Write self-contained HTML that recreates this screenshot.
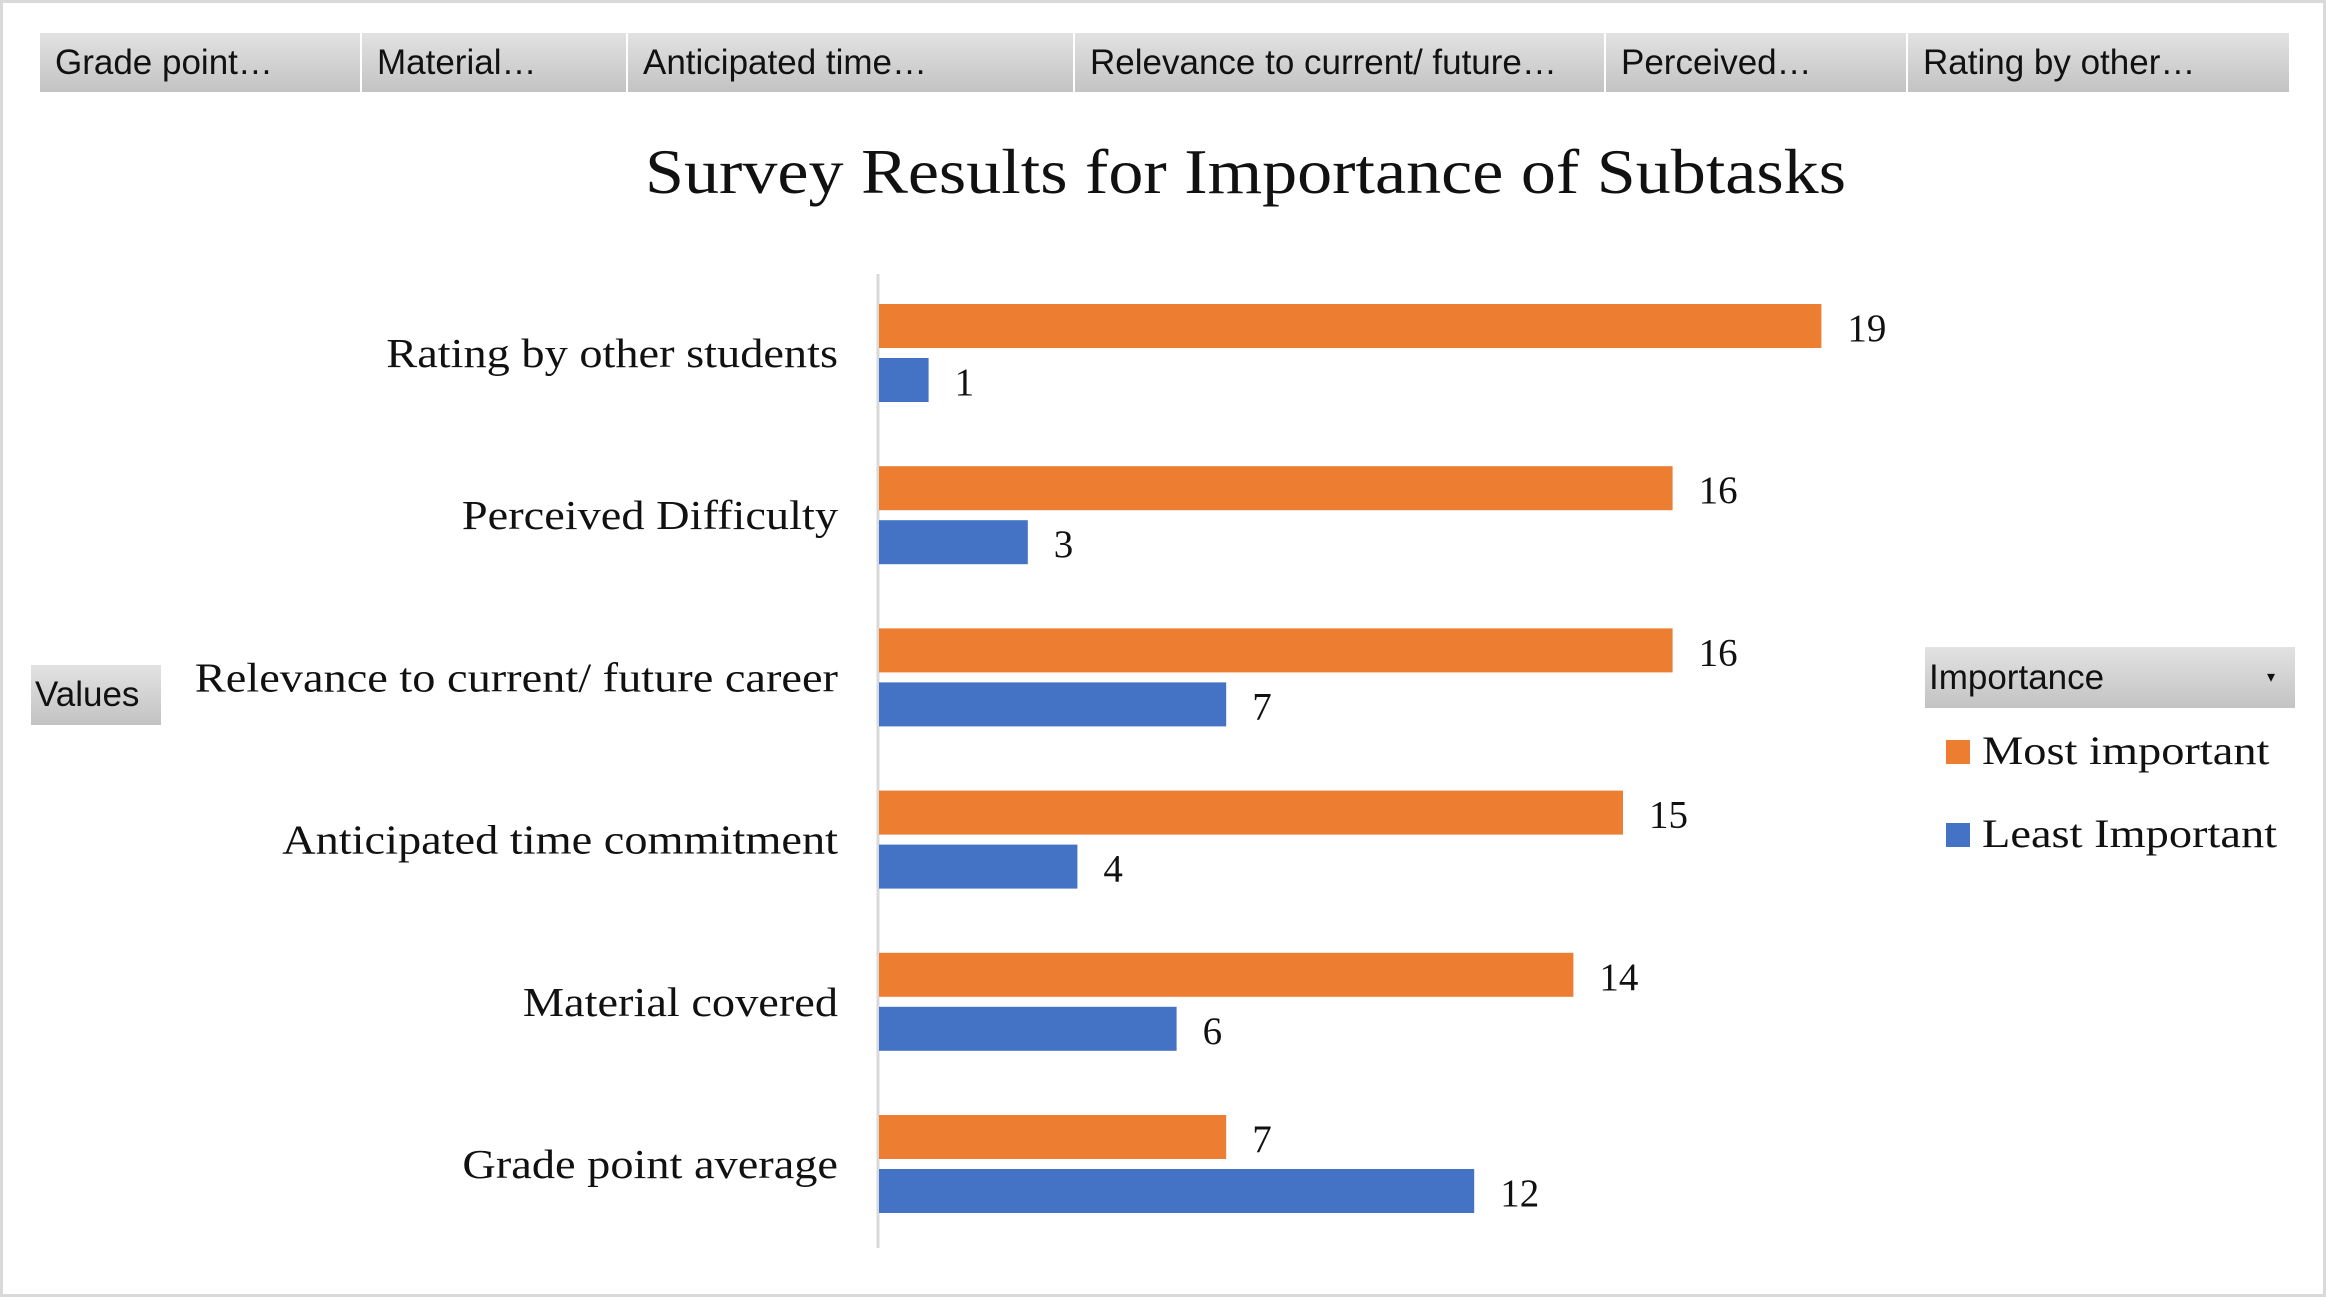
<!DOCTYPE html>
<html><head><meta charset="utf-8"><style>
html,body{margin:0;padding:0;background:#fff;}
#root{position:relative;width:2326px;height:1297px;overflow:hidden;box-sizing:border-box;border:3px solid #d9d9d9;background:#fff;}
.fb{position:absolute;top:30px;height:59px;box-sizing:border-box;background:linear-gradient(#e2e2e2,#c3c3c3);border-right:2px solid #fff;font-family:"Liberation Sans",sans-serif;font-size:35px;line-height:59px;padding-left:15px;color:#111;white-space:nowrap;overflow:hidden;}
</style></head><body>
<div id="root">
<div class="fb" style="left:37px;width:322px">Grade point…</div>
<div class="fb" style="left:359px;width:266px">Material…</div>
<div class="fb" style="left:625px;width:447px">Anticipated time…</div>
<div class="fb" style="left:1072px;width:531px">Relevance to current/ future…</div>
<div class="fb" style="left:1603px;width:302px">Perceived…</div>
<div class="fb" style="left:1905px;width:381px;border-right:none">Rating by other…</div>
<div class="fb" style="left:28px;top:662px;width:132px;height:60px;line-height:60px;padding-left:4px">Values</div>
<div class="fb" style="left:1922px;top:644px;width:370px;height:61px;line-height:61px;padding-left:4px;border:none">Importance<span style="position:absolute;right:20px;top:0;font-size:16px">▾</span></div>
<svg id="chart" width="2326" height="1297" style="position:absolute;left:0;top:0">
<text x="642" y="190" textLength="1201" lengthAdjust="spacingAndGlyphs" font-size="64" font-family="Liberation Serif, serif" fill="#111">Survey Results for Importance of Subtasks</text>
<g id="plot"></g>
<g>
<rect x="1943" y="737" width="24" height="24" fill="#ED7D31"/>
<text class="wide" x="1979" y="761" font-size="40" font-family="Liberation Serif, serif" fill="#111">Most important</text>
<rect x="1943" y="820" width="24" height="24" fill="#4472C4"/>
<text class="wide" x="1979" y="844" font-size="40" font-family="Liberation Serif, serif" fill="#111">Least Important</text>
</g>
</svg>
</div>
<script>
const categories = ["Rating by other students","Perceived Difficulty","Relevance to current/ future career","Anticipated time commitment","Material covered","Grade point average"];
const mostImportant = [19,16,16,15,14,7];
const leastImportant = [1,3,7,4,6,12];
const NS="http://www.w3.org/2000/svg";
const x0=876, unit=49.6, top0=301, step=162.2, barH=44, gap=10;
function xs(v){return x0+v*unit;}
function ys(i){return top0+i*step;}
const g=document.getElementById('plot');
function mk(tag,attrs){const e=document.createElementNS(NS,tag);for(const k in attrs)e.setAttribute(k,attrs[k]);g.appendChild(e);return e;}
function widen(t,f){const w=t.getComputedTextLength();t.setAttribute('textLength',w*f);t.setAttribute('lengthAdjust','spacingAndGlyphs');}
const ax=mk('line',{x1:x0-1,x2:x0-1,y1:271,y2:1245,stroke:'#d9d9d9','stroke-width':3});


categories.forEach((c,i)=>{
  const y=ys(i);
  const t=mk('text',{x:835,y:y+63,'text-anchor':'end','font-size':41,'font-family':'Liberation Serif, serif',fill:'#111'});
  t.textContent=c;
  
  
  widen(t,1.13);
  const series=[[mostImportant[i],'#ED7D31',y,'bar-most-important'],[leastImportant[i],'#4472C4',y+barH+gap,'bar-least-important']];
  series.forEach(s=>{
    const r=mk('rect',{x:x0,y:s[2],width:xs(s[0])-x0,height:barH,fill:s[1]});
    
    
    const l=mk('text',{x:xs(s[0])+26,y:s[2]+37,'font-size':39,'font-family':'Liberation Serif, serif',fill:'#111'});
    l.textContent=s[0];
    
    
  });
});
document.querySelectorAll('text.wide').forEach(t=>widen(t,1.16));
</script>
</body></html>
